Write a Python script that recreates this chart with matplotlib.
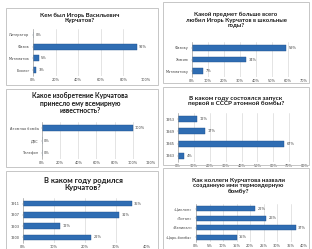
import numpy as np
import matplotlib
matplotlib.use('Agg')
import matplotlib.pyplot as plt
from matplotlib.patches import Rectangle
from matplotlib.ticker import MultipleLocator, FuncFormatter

# data, categories listed top to bottom
titles = [
    'Кем был Игорь Васильевич\nКурчатов?',
    'Какой предмет больше всего\nлюбил Игорь Курчатов в школьные\nгоды?',
    'Какое изобретение Курчатова\nпринесло ему всемирную\nизвестность?',
    'В каком году состоялся запуск\nпервой в СССР атомной бомбы?',
    'В каком году родился\nКурчатов?',
    'Как коллеги Курчатова назвали\nсозданную ими термоядерную\nбомбу?',
]
cats1 = ['Литератор', 'Физик', 'Математик', 'Биолог']
vals1 = [0, 92, 5, 3]
cats2 = ['Физику', 'Химию', 'Математику']
vals2 = [59, 34, 7]
cats3 = ['Атомная бомба', 'ДВС', 'Телефон']
vals3 = [100, 0, 0]
cats4 = ['1953', '1949', '1945', '1943']
vals4 = [12, 17, 67, 4]
cats5 = ['1911', '1907', '1903', '1900']
vals5 = [35, 31, 12, 22]
cats6 = ['«Циклоп»', '«Титан»', '«Великан»', '«Царь-бомба»']
vals6 = [22, 26, 37, 15]
xmax = [100, 70, 120, 80, 40, 40]
xstep = [20, 10, 20, 10, 10, 5]

W, H = 312, 249
fig = plt.figure(figsize=(W / 100, H / 100), dpi=100)
fig.patch.set_facecolor('white')

# layout in pixels: box (x0,y0,x1,y1), axes (x0,y0,x1,y1), title center (x,y), title size
boxes = [(6, 8, 158, 85), (163, 2, 309, 83), (6, 89, 158, 167),
         (163, 87, 309, 165), (6, 171, 158, 250), (163, 168, 309, 250)]
axboxes = [(33, 29, 146, 76), (192, 42, 304, 77), (42, 122, 151, 159),
           (178, 113, 305, 162), (23, 198, 147, 243), (196, 204, 304, 242)]
tpos = [(80, 18), (236, 20), (80, 103), (236, 101), (83, 184), (238, 186)]
tsize = [4.4, 4.3, 4.9, 4.6, 5.4, 4.5]

data = [(cats1, vals1), (cats2, vals2), (cats3, vals3),
        (cats4, vals4), (cats5, vals5), (cats6, vals6)]

def fx(x):
    return x / W

def fy(y):
    return 1 - y / H

for i, (cats, vals) in enumerate(data):
    bx0, by0, bx1, by1 = boxes[i]
    fig.patches.append(Rectangle((fx(bx0), fy(by1)), fx(bx1 - bx0), (by1 - by0) / H,
                                 transform=fig.transFigure, fill=False,
                                 edgecolor='#bdbdbd', linewidth=0.6))
    ax0, ay0, ax1, ay1 = axboxes[i]
    ax = fig.add_axes([fx(ax0), fy(ay1), fx(ax1 - ax0), (ay1 - ay0) / H])
    y = np.arange(len(cats))
    ax.barh(y, vals, height=0.5, color='#2f6db3', edgecolor='#1d4f8a', linewidth=0.3)
    for yy, v in zip(y, vals):
        ax.text(v + xmax[i] * 0.02, yy, f'{v}%', va='center', ha='left',
                fontsize=2.5, color='#404040')
    ax.set_yticks(y)
    ax.set_yticklabels(cats)
    ax.set_ylim(len(cats) - 0.5, -0.5)
    ax.set_xlim(0, xmax[i])
    ax.xaxis.set_major_locator(MultipleLocator(xstep[i]))
    ax.xaxis.set_major_formatter(FuncFormatter(lambda v, p: f'{int(round(v))}%'))
    ax.tick_params(axis='both', labelsize=2.5, labelcolor='#404040', length=1,
                   width=0.3, color='#999999', pad=1.5)
    ax.tick_params(axis='x', length=0, pad=1.2)
    ax.grid(axis='x', color='#d0d0d0', linewidth=0.4)
    ax.set_axisbelow(True)
    for s in ['top', 'right', 'bottom']:
        ax.spines[s].set_visible(False)
    ax.spines['left'].set_color('#999999')
    ax.spines['left'].set_linewidth(0.4)
    ax.set_facecolor('none')
    fig.text(fx(tpos[i][0]), fy(tpos[i][1]), titles[i], ha='center', va='center',
             fontsize=tsize[i], fontweight='bold', color='#1a1a1a',
             family=['Lato', 'DejaVu Sans'], linespacing=1.15)

fig.savefig('out.png', dpi=100)
